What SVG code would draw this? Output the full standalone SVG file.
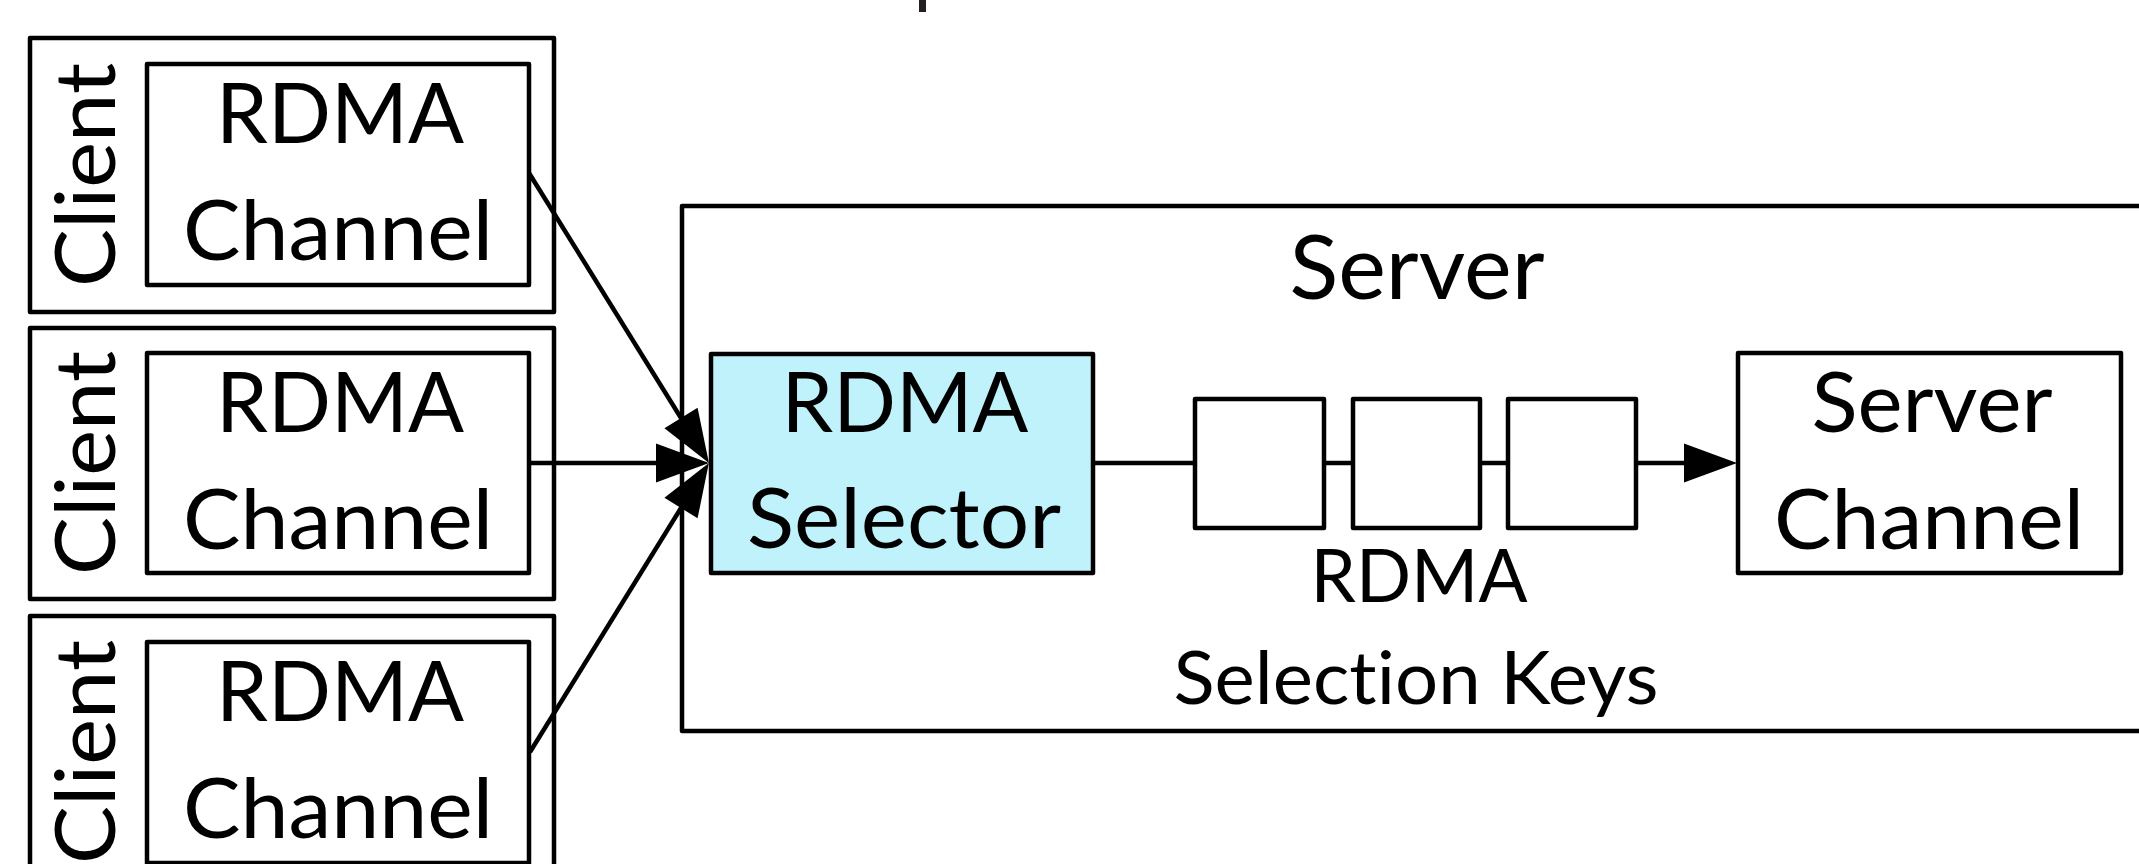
<svg xmlns="http://www.w3.org/2000/svg" width="2139" height="864" viewBox="0 0 2139 864">
  <style>
    .box { fill: #ffffff; stroke: #000000; stroke-width: 4.5; stroke-linejoin: round; }
    .sel { fill: #c0f2fc; stroke: #000000; stroke-width: 4.5; stroke-linejoin: round; }
    .edge { fill: none; stroke: #000000; stroke-width: 4.5; }
    .lbl { font-family: Lato, "Noto Sans", "Liberation Sans", sans-serif; font-size: 84px; fill: #000000; text-anchor: middle; font-variant-ligatures: none; }
    .title { font-size: 89px; }
    .small { font-size: 73px; }
  </style>
  <defs>
    <marker id="head" markerUnits="userSpaceOnUse" markerWidth="54" markerHeight="40" refX="0" refY="19.5" orient="auto" overflow="visible">
      <path d="M0,0 L53,19.5 L0,39 Z" fill="#000000"/>
    </marker>
  </defs>

  <rect x="919" y="0" width="7" height="12" fill="#231f20"/>

  <!-- server container -->
  <g id="server">
    <rect class="box" x="682" y="206" width="1500" height="525"/>
    <text class="lbl title" x="1417" y="299" textLength="255" lengthAdjust="spacingAndGlyphs">Server</text>
  </g>

  <!-- clients -->
  <g id="client1">
    <rect class="box" x="30" y="38" width="524" height="274"/>
    <text class="lbl" transform="rotate(-90 115 175)" x="115" y="175" textLength="224" lengthAdjust="spacingAndGlyphs">Client</text>
    <rect class="box" x="147" y="64" width="382" height="221"/>
    <text class="lbl" x="340" y="143" textLength="248" lengthAdjust="spacingAndGlyphs">RDMA</text>
    <text class="lbl" x="338" y="260" textLength="310" lengthAdjust="spacingAndGlyphs">Channel</text>
  </g>
  <g id="client2">
    <rect class="box" x="30" y="328" width="524" height="271"/>
    <text class="lbl" transform="rotate(-90 115 463)" x="115" y="463" textLength="224" lengthAdjust="spacingAndGlyphs">Client</text>
    <rect class="box" x="147" y="353" width="382" height="220"/>
    <text class="lbl" x="340" y="432" textLength="248" lengthAdjust="spacingAndGlyphs">RDMA</text>
    <text class="lbl" x="338" y="549" textLength="310" lengthAdjust="spacingAndGlyphs">Channel</text>
  </g>
  <g id="client3">
    <rect class="box" x="30" y="616" width="524" height="274"/>
    <text class="lbl" transform="rotate(-90 115 752)" x="115" y="752" textLength="224" lengthAdjust="spacingAndGlyphs">Client</text>
    <rect class="box" x="147" y="642" width="382" height="221"/>
    <text class="lbl" x="340" y="721" textLength="248" lengthAdjust="spacingAndGlyphs">RDMA</text>
    <text class="lbl" x="338" y="838" textLength="310" lengthAdjust="spacingAndGlyphs">Channel</text>
  </g>

  <!-- selector -->
  <g id="selector">
    <rect class="sel" x="711" y="354" width="382" height="219"/>
    <text class="lbl" x="905" y="432" textLength="247" lengthAdjust="spacingAndGlyphs">RDMA</text>
    <text class="lbl" x="904" y="548" textLength="314" lengthAdjust="spacingAndGlyphs">Selector</text>
  </g>

  <!-- selection keys queue -->
  <g id="keys">
    <rect class="box" x="1195" y="399" width="129" height="129"/>
    <rect class="box" x="1353" y="399" width="127" height="129"/>
    <rect class="box" x="1508" y="399" width="128" height="129"/>
    <text class="lbl small" x="1419" y="602" textLength="217" lengthAdjust="spacingAndGlyphs">RDMA</text>
    <text class="lbl small" x="1416" y="704" textLength="485" lengthAdjust="spacingAndGlyphs">Selection Keys</text>
  </g>

  <!-- server channel -->
  <g id="serverChannel">
    <rect class="box" x="1738" y="353" width="383" height="220"/>
    <text class="lbl" x="1932" y="432" textLength="241" lengthAdjust="spacingAndGlyphs">Server</text>
    <text class="lbl" x="1929" y="549" textLength="310" lengthAdjust="spacingAndGlyphs">Channel</text>
  </g>

  <!-- connectors -->
  <g id="connectors">
    <line class="edge" x1="529" y1="173" x2="681" y2="418" marker-end="url(#head)"/>
    <line class="edge" x1="529" y1="463" x2="656" y2="463" marker-end="url(#head)"/>
    <line class="edge" x1="530" y1="752" x2="681" y2="508" marker-end="url(#head)"/>
    <line class="edge" x1="1093" y1="463" x2="1195" y2="463"/>
    <line class="edge" x1="1324" y1="463" x2="1353" y2="463"/>
    <line class="edge" x1="1480" y1="463" x2="1508" y2="463"/>
    <line class="edge" x1="1636" y1="463" x2="1684" y2="463" marker-end="url(#head)"/>
  </g>
</svg>
